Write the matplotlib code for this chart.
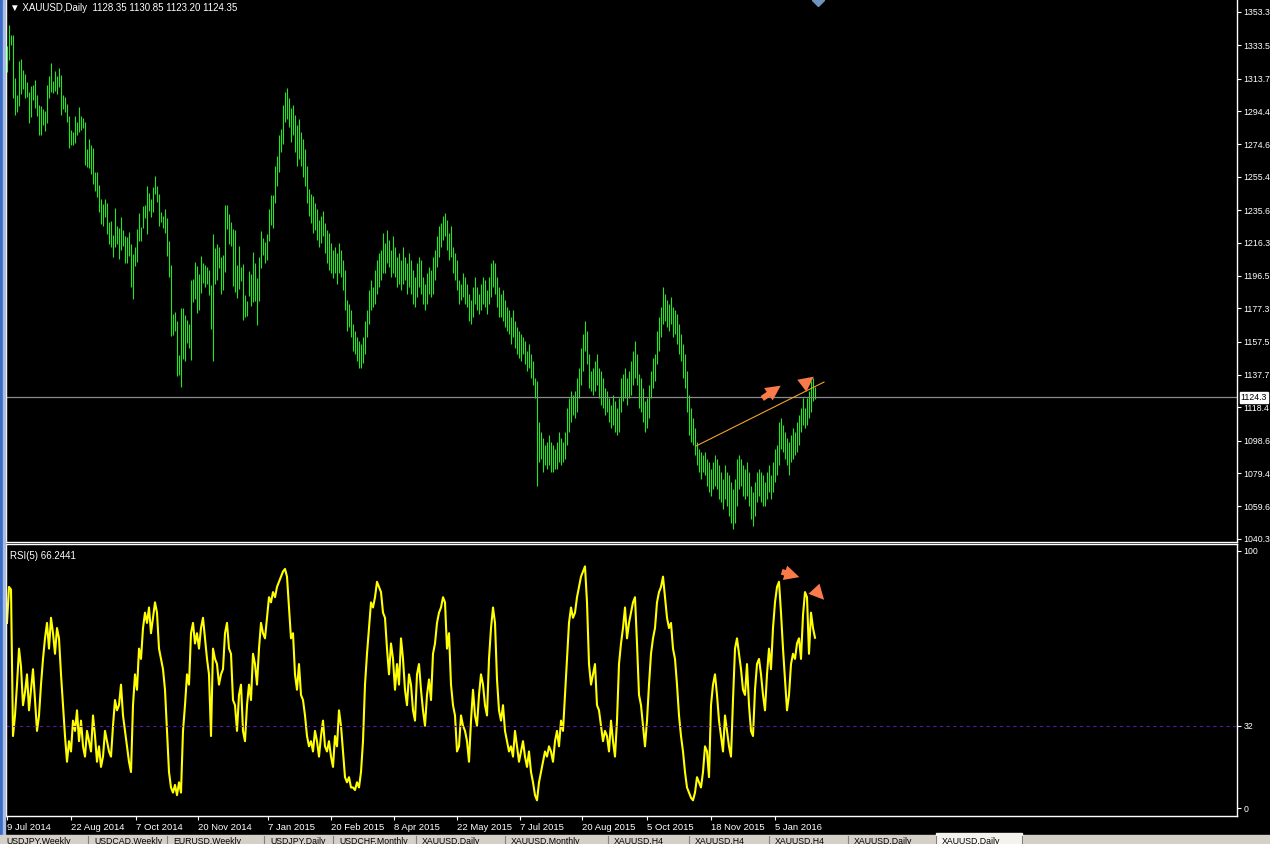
import matplotlib.pyplot as plt
from matplotlib.patches import Rectangle
from matplotlib.transforms import blended_transform_factory

plt.rcParams['font.family'] = ['Liberation Sans', 'DejaVu Sans']

# daily XAUUSD bars, highs / lows (one bar per trading day)
highs = [
    1333.1, 1345.6, 1339.6, 1339.6, 1314.1, 1304.0, 1324.2, 1325.4, 1318.8, 1316.4,
    1311.7, 1305.8, 1309.3, 1309.9, 1312.9, 1304.0, 1298.0, 1297.4, 1295.7, 1294.5,
    1309.9, 1315.3, 1323.0, 1312.3, 1318.2, 1315.3, 1320.0, 1315.9, 1304.0, 1302.8,
    1298.6, 1291.5, 1283.2, 1282.0, 1291.5, 1287.9, 1296.8, 1291.5, 1290.3, 1287.9,
    1271.9, 1277.8, 1274.3, 1272.5, 1258.2, 1258.2, 1250.5, 1242.2, 1239.2, 1242.2,
    1239.8, 1228.5, 1229.1, 1220.8, 1236.8, 1226.2, 1225.0, 1231.5, 1223.8, 1220.2,
    1219.6, 1222.6, 1215.5, 1209.5, 1213.7, 1224.4, 1233.9, 1225.6, 1238.0, 1238.6,
    1249.9, 1245.8, 1242.2, 1249.3, 1255.9, 1249.9, 1245.2, 1234.5, 1232.1, 1236.2,
    1230.9, 1217.2, 1203.0, 1173.9, 1175.1, 1169.7, 1149.5, 1177.4, 1177.4, 1173.3,
    1170.3, 1168.0, 1194.1, 1194.7, 1204.8, 1202.4, 1197.6, 1208.3, 1204.2, 1203.0,
    1201.8, 1200.0, 1191.1, 1221.4, 1213.1, 1215.5, 1213.7, 1207.7, 1208.9, 1238.6,
    1238.6, 1233.3, 1228.5, 1224.4, 1223.8, 1203.0, 1214.3, 1201.8, 1203.6, 1185.2,
    1181.6, 1199.4, 1197.6, 1210.7, 1204.2, 1195.3, 1207.7, 1223.2, 1219.0, 1216.6,
    1221.4, 1236.2, 1244.6, 1244.6, 1262, 1268, 1280, 1284, 1298, 1306,
    1308, 1302, 1296, 1298, 1292, 1286, 1290, 1282, 1278, 1272,
    1262, 1248, 1245, 1244, 1240, 1236, 1230, 1232, 1235, 1228,
    1224, 1222, 1216, 1212, 1214, 1210, 1216, 1212, 1206, 1200,
    1182, 1180, 1176, 1168, 1164, 1160, 1158, 1156, 1160, 1170,
    1176, 1188, 1194, 1190, 1200, 1206, 1210, 1212, 1222, 1216,
    1224, 1218, 1212, 1220, 1214, 1208, 1210, 1206, 1214, 1208,
    1204, 1210, 1206, 1200, 1196, 1204, 1208, 1206, 1196, 1192,
    1198, 1202, 1200, 1208, 1212, 1220, 1226, 1228, 1232, 1234,
    1230, 1222, 1226, 1214, 1210, 1206, 1194, 1192, 1198, 1196,
    1192, 1186, 1182, 1190, 1196, 1190, 1186, 1192, 1196, 1194,
    1188, 1196, 1204, 1206, 1204, 1196, 1190, 1186, 1188, 1182,
    1178, 1176, 1172, 1176, 1170, 1166, 1164, 1162, 1160, 1158,
    1152, 1156, 1150, 1146, 1136, 1134, 1110, 1104, 1100, 1096,
    1098, 1102, 1098, 1096, 1094, 1098, 1104, 1100, 1098, 1104,
    1118, 1124, 1128, 1126, 1128, 1136, 1142, 1154, 1162, 1170,
    1164, 1150, 1140, 1142, 1146, 1150, 1142, 1140, 1136, 1130,
    1128, 1124, 1120, 1126, 1122, 1118, 1124, 1136, 1138, 1142,
    1136, 1140, 1146, 1152, 1158, 1150, 1138, 1136, 1130, 1122,
    1124, 1132, 1140, 1148, 1150, 1164, 1172, 1178, 1190, 1186,
    1182, 1180, 1184, 1178, 1176, 1174, 1168, 1162, 1156, 1150,
    1140, 1126, 1118, 1112, 1106, 1098, 1094, 1092, 1090, 1092,
    1088, 1086, 1082, 1086, 1090, 1088, 1084, 1080, 1076, 1084,
    1080, 1078, 1074, 1070, 1076, 1088, 1090, 1088, 1084, 1082,
    1086, 1080, 1072, 1068, 1074, 1080, 1082, 1080, 1078, 1074,
    1080, 1084, 1078, 1086, 1094, 1096, 1110, 1112, 1108, 1104,
    1100, 1098, 1102, 1106, 1104, 1110, 1114, 1118, 1124, 1118,
    1124, 1128, 1134, 1136, 1130.85,
]
lows = [
    1317.6, 1324.8, 1333.7, 1302.2, 1292.1, 1293.9, 1297.4, 1304.6, 1307.5, 1302.2,
    1302.8, 1287.3, 1290.9, 1301.0, 1296.2, 1291.5, 1280.2, 1280.2, 1286.2, 1282.6,
    1287.3, 1302.2, 1305.8, 1305.2, 1306.3, 1304.6, 1308.7, 1292.1, 1295.7, 1293.9,
    1287.9, 1272.5, 1274.3, 1274.3, 1275.5, 1280.2, 1282.0, 1283.2, 1284.4, 1262.4,
    1261.2, 1260.6, 1257.0, 1251.1, 1246.9, 1243.4, 1234.5, 1227.3, 1226.2, 1231.5,
    1221.4, 1215.5, 1213.7, 1207.8, 1213.7, 1215.5, 1206.6, 1211.9, 1214.3, 1204.2,
    1204.2, 1208.3, 1189.9, 1182.8, 1202.4, 1204.8, 1217.2, 1217.2, 1225.0, 1230.9,
    1221.4, 1235.1, 1231.5, 1234.5, 1245.2, 1240.4, 1226.2, 1228.5, 1225.0, 1222.0,
    1208.3, 1195.9, 1160.8, 1161.4, 1163.8, 1137.1, 1137.7, 1130.5, 1147.1, 1146.0,
    1156.7, 1153.7, 1146.6, 1181.0, 1182.8, 1174.5, 1176.3, 1186.4, 1192.3, 1189.9,
    1191.7, 1185.2, 1165.0, 1146.0, 1191.7, 1194.1, 1201.2, 1185.8, 1188.1, 1198.8,
    1224.4, 1215.5, 1214.3, 1190.5, 1187.0, 1183.4, 1188.7, 1193.5, 1170.3, 1172.1,
    1172.7, 1184.6, 1178.6, 1181.0, 1181.6, 1167.4, 1181.6, 1201.2, 1208.9, 1204.2,
    1206.0, 1217.2, 1226.8, 1225.0, 1240, 1250, 1258, 1270, 1275, 1288,
    1290, 1285, 1276, 1280, 1270, 1262, 1266, 1262, 1255, 1250,
    1240, 1232, 1228, 1222, 1224, 1218, 1214, 1216, 1220, 1210,
    1204, 1200, 1198, 1195, 1198, 1192, 1198, 1196, 1188, 1176,
    1164, 1166, 1160, 1152, 1150, 1146, 1142, 1142, 1145, 1150,
    1160, 1168, 1176, 1178, 1180, 1186, 1190, 1194, 1198, 1198,
    1204, 1202, 1196, 1198, 1196, 1190, 1192, 1188, 1192, 1194,
    1186, 1190, 1186, 1180, 1178, 1184, 1190, 1186, 1180, 1176,
    1180, 1186, 1184, 1186, 1194, 1202, 1208, 1214, 1218, 1220,
    1212, 1206, 1208, 1198, 1194, 1188, 1180, 1182, 1184, 1180,
    1178, 1170, 1168, 1172, 1180, 1176, 1174, 1176, 1180, 1178,
    1174, 1180, 1184, 1190, 1186, 1178, 1172, 1172, 1170, 1166,
    1164, 1162, 1156, 1160, 1154, 1150, 1148, 1146, 1150, 1144,
    1140, 1142, 1136, 1132, 1124, 1072, 1086, 1088, 1080, 1084,
    1082, 1084, 1080, 1080, 1082, 1082, 1086, 1084, 1086, 1088,
    1096, 1104, 1110, 1114, 1112, 1116, 1124, 1132, 1140, 1152,
    1144, 1130, 1128, 1126, 1128, 1132, 1124, 1120, 1118, 1114,
    1116, 1110, 1106, 1108, 1104, 1102, 1104, 1116, 1122, 1124,
    1120, 1124, 1126, 1132, 1136, 1132, 1118, 1116, 1110, 1104,
    1106, 1112, 1124, 1130, 1134, 1144, 1152, 1160, 1168, 1170,
    1166, 1164, 1168, 1160, 1162, 1156, 1150, 1146, 1136, 1130,
    1116, 1102, 1098, 1096, 1090, 1084, 1080, 1076, 1080, 1078,
    1072, 1068, 1066, 1070, 1072, 1070, 1064, 1062, 1058, 1064,
    1060, 1054, 1050, 1046, 1050, 1060, 1070, 1072, 1066, 1064,
    1066, 1060, 1052, 1048, 1054, 1062, 1066, 1062, 1060, 1060,
    1064, 1068, 1064, 1068, 1074, 1078, 1084, 1094, 1092, 1088,
    1084, 1078, 1086, 1088, 1090, 1092, 1096, 1104, 1108, 1106,
    1108, 1112, 1116, 1122, 1123.20,
]
# RSI(5) values
rsi = [
    72, 86, 85, 28, 36, 48, 62, 55, 40, 45,
    52, 38, 46, 54, 42, 30, 36, 48, 58, 66,
    72, 62, 74, 68, 60, 70, 66, 52, 40, 28,
    18, 26, 22, 34, 30, 38, 26, 34, 24, 20,
    30, 26, 22, 36, 28, 18, 24, 16, 20, 30,
    26, 22, 20, 32, 42, 38, 40, 48, 36, 30,
    24, 18, 14, 40, 52, 46, 62, 58, 70, 76,
    72, 78, 68, 74, 80, 76, 62, 58, 54, 46,
    30, 14, 8, 6, 9, 5, 10, 6, 30, 40,
    52, 48, 68, 72, 64, 68, 62, 70, 74, 66,
    58, 52, 28, 62, 58, 56, 48, 52, 54, 68,
    72, 62, 60, 42, 40, 30, 44, 48, 30, 26,
    40, 48, 42, 60, 56, 48, 62, 72, 68, 66,
    74, 82, 80, 84, 82, 86, 88, 90, 92, 93,
    90, 78, 66, 68, 52, 46, 56, 44, 42, 36,
    28, 24, 26, 22, 30, 26, 20, 28, 34, 24,
    22, 26, 20, 16, 28, 24, 38, 32, 22, 12,
    10, 12, 8, 8, 7, 10, 8, 14, 26, 48,
    60, 70, 80, 78, 82, 88, 86, 84, 76, 74,
    62, 52, 64, 58, 46, 56, 48, 66, 58, 46,
    40, 52, 48, 38, 34, 52, 56, 46, 38, 32,
    44, 50, 42, 60, 64, 72, 76, 78, 82, 80,
    62, 68, 48, 40, 36, 22, 24, 36, 32, 30,
    26, 18, 34, 46, 36, 32, 44, 52, 48, 40,
    36, 58, 70, 78, 72, 50, 38, 34, 40, 30,
    26, 22, 24, 20, 30, 24, 18, 22, 26, 20,
    16, 22, 14, 10, 5, 3, 10, 14, 18, 22,
    20, 24, 22, 18, 26, 30, 24, 34, 30, 44,
    58, 72, 78, 74, 76, 82, 86, 90, 92, 94,
    80, 56, 48, 52, 56, 40, 38, 32, 26, 30,
    28, 22, 34, 26, 20, 34, 56, 64, 70, 78,
    66, 72, 76, 80, 82, 64, 44, 40, 32, 24,
    34, 48, 60, 66, 70, 80, 84, 86, 90, 82,
    74, 70, 72, 62, 58, 48, 36, 28, 22, 14,
    8, 6, 4, 3, 6, 12, 10, 8, 14, 24,
    22, 12, 40, 48, 52, 44, 34, 28, 22, 36,
    30, 24, 20, 42, 62, 66, 60, 54, 46, 44,
    56, 40, 30, 28, 46, 56, 58, 52, 44, 38,
    52, 62, 54, 70, 80, 86, 88, 76, 62, 50,
    38, 44, 56, 60, 58, 64, 66, 58, 75, 84,
    82, 60, 76, 70, 66.2441,
]

price_ticks = [1353.3, 1333.5, 1313.7, 1294.4, 1274.6, 1255.4, 1235.6, 1216.3, 1196.5,
               1177.3, 1157.5, 1137.7, 1118.4, 1098.6, 1079.4, 1059.6, 1040.3]
date_labels = ['9 Jul 2014', '22 Aug 2014', '7 Oct 2014', '20 Nov 2014', '7 Jan 2015',
               '20 Feb 2015', '8 Apr 2015', '22 May 2015', '7 Jul 2015', '20 Aug 2015',
               '5 Oct 2015', '18 Nov 2015', '5 Jan 2016']
date_bars = [0, 32, 64.5, 95.5, 130.5, 162, 193.5, 225, 256.5, 287.5, 320, 352, 384]
bid = 1124.35
rsi_level = 32
trend_bars = [344.5, 408.5]
trend_prices = [1095.5, 1133.5]
tab_names = ['USDJPY,Weekly', 'USDCAD,Weekly', 'EURUSD,Weekly', 'USDJPY,Daily', 'USDCHF,Monthly',
             'XAUUSD,Daily', 'XAUUSD,Monthly', 'XAUUSD,H4', 'XAUUSD,H4', 'XAUUSD,H4',
             'XAUUSD,Daily', 'XAUUSD,Daily']

W, H = 1270, 844
fig = plt.figure(figsize=(W / 100, H / 100), dpi=100, facecolor='black')

def fx(px):  # pixel -> figure fraction
    return px / W

def fy(py):
    return 1 - py / H

ax1 = fig.add_axes([fx(6), fy(542), fx(1231), 542 / H], facecolor='black')
ax2 = fig.add_axes([fx(6), fy(816), fx(1231), (816 - 544) / H], facecolor='black')

for ax in (ax1, ax2):
    for side in ax.spines:
        ax.spines[side].set_color('white')
        ax.spines[side].set_linewidth(1.0)
    ax.set_xlim(-0.5, 615)
    ax.yaxis.tick_right()
    ax.tick_params(axis='y', colors='white', labelsize=6.3, length=3, width=0.8, pad=1.5)
ax1.spines['top'].set_visible(False)

# price bars
idx = list(range(len(highs)))
ax1.vlines(idx, lows, highs, color='#22e622', lw=0.8)
ax1.axhline(bid, color='#8c8c8c', lw=0.9)
ax1.plot(trend_bars, trend_prices, color='#f0a030', lw=0.8)
ax1.set_ylim(1038.5, 1360.4)
ax1.set_yticks(price_ticks)
ax1.set_yticklabels([f'{v:.1f}' for v in price_ticks])
ax1.set_xticks([])

# orange hand-drawn arrows
arrow = dict(arrowstyle='simple,head_length=0.9,head_width=0.9,tail_width=0.35',
             color='#fa7a4a', lw=0, mutation_scale=12)
ax1.annotate('', xy=(388, 1132.3), xytext=(376.5, 1122.8), arrowprops=arrow)
ax1.annotate('', xy=(404.5, 1137.7), xytext=(399.5, 1133.2), arrowprops=arrow)

tr = blended_transform_factory(ax1.transAxes, ax1.transData)
ax1.text(1.003, bid, '1124.3', transform=tr, fontsize=6.3, color='black', va='center', ha='left',
         bbox=dict(facecolor='white', edgecolor='white', pad=0.6))
ax1.text(0.003, 0.995, '\u25bc XAUUSD,Daily  1128.35 1130.85 1123.20 1124.35',
         transform=ax1.transAxes, color='white', fontsize=7, va='top', ha='left')

# RSI pane
ax2.plot(range(len(rsi)), rsi, color='#ffff00', lw=1.5)
ax2.axhline(rsi_level, color='#5a14a0', lw=0.8, ls=(0, (3, 3)))
ax2.set_ylim(-3.1, 102.7)
ax2.set_yticks([100, 32, 0])
ax2.set_xticks(date_bars)
ax2.set_xticklabels(date_labels)
ax2.tick_params(axis='x', colors='white', labelsize=6.8, length=3, width=0.8, pad=2)
for lbl in ax2.get_xticklabels():
    lbl.set_ha('left')
ax2.annotate('', xy=(397.5, 89.5), xytext=(386, 92.2), arrowprops=arrow)
ax2.annotate('', xy=(409.5, 80.2), xytext=(405, 84.0), arrowprops=arrow)
ax2.text(0.003, 0.975, 'RSI(5) 66.2441', transform=ax2.transAxes, color='white',
         fontsize=7, va='top', ha='left')

# window frame: blue strip on the left, tab bar at the bottom, shift marker on top
fig.patches.append(Rectangle((0, 0), fx(3), 1, transform=fig.transFigure, color='#3a6cc8'))
fig.patches.append(Rectangle((fx(3), 0), fx(2), 1, transform=fig.transFigure, color='#a8bde0'))
fig.patches.append(Rectangle((0, 0), 1, fy(835), transform=fig.transFigure, color='#d4d0c8'))
fig.patches.append(Rectangle((fx(936), 0), fx(86), fy(833), transform=fig.transFigure, color='#f4f3ee'))
tab_edges = [0, 88, 167, 264, 333, 416, 505, 608, 689, 769, 848, 936, 1022]
for x in tab_edges[1:]:
    fig.add_artist(plt.Line2D([fx(x), fx(x)], [0, fy(836)], color='#808080', lw=0.8))
for x, name in zip(tab_edges, tab_names):
    fig.text(fx(x + 6), fy(837), name, fontsize=6.3, color='black', va='top', ha='left')
fig.add_artist(plt.Line2D([fx(818)], [1], marker='D', color='#6f93bd', markersize=6,
                          transform=fig.transFigure, clip_on=False))

fig.savefig('out.png', dpi=100, facecolor='black')
